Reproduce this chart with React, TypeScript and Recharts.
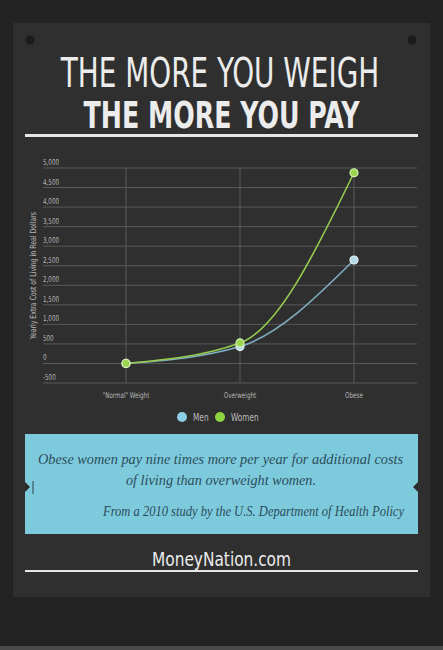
import { LineChart, Line, XAxis, YAxis, CartesianGrid, Label } from "recharts";

// weight categories and yearly extra cost (USD)
const categories = ['"Normal" Weight', "Overweight", "Obese"];
const menCost = [0, 432, 2646];
const womenCost = [0, 524, 4879];
const yTicks = [-500, 0, 500, 1000, 1500, 2000, 2500, 3000, 3500, 4000, 4500, 5000];
const seriesNames = ["Men", "Women"];
const legendColors = ["#8ccfe4", "#8ed340"];

const data = categories.map((c, i) => ({ category: c, men: menCost[i], women: womenCost[i] }));

const NARROW = '"Liberation Sans Narrow", "DejaVu Sans Condensed", "Arial Narrow", sans-serif';
const SERIF = '"Liberation Serif", "DejaVu Serif", serif';
const PLOT_LEFT = 43;
const SQUEEZE = 0.78; // the original uses a narrow face, squeeze ours to match

// text squeezed horizontally around its anchor point
function SText({ x, y, sx = SQUEEZE, children, ...rest }: any) {
  return (
    <text transform={`translate(${x},${y}) scale(${sx},1)`} x={0} y={0} {...rest}>
      {children}
    </text>
  );
}

function XTick(props: any) {
  const { x, y, payload } = props;
  return (
    <SText x={x} y={y + 7} textAnchor="middle" fill="#b8b8b8" fontSize={8} fontFamily={NARROW}>
      {payload.value}
    </SText>
  );
}

function YTick(props: any) {
  const { y, payload } = props;
  return (
    <SText x={PLOT_LEFT} y={y - 3} fill="#b8b8b8" fontSize={8} fontFamily={NARROW}>
      {Number(payload.value).toLocaleString("en-US")}
    </SText>
  );
}

function YTitle(props: any) {
  const vb = props.viewBox;
  const cx = vb.x + vb.width - 10;
  const cy = vb.y + vb.height / 2;
  return (
    <text
      transform={`translate(${cx},${cy}) rotate(-90) scale(0.81,1)`}
      x={0}
      y={0}
      textAnchor="middle"
      dominantBaseline="central"
      fill="#b8b8b8"
      fontSize={8.5}
      fontFamily={NARROW}
    >
      Yearly Extra Cost of Living in Real Dollars
    </text>
  );
}

export default function App() {
  return (
    <div style={{ position: "absolute", left: 0, top: 0, width: 443, height: 650, overflow: "hidden" }}>
      <svg width={443} height={650} style={{ position: "absolute", left: 0, top: 0 }}>
        <rect width={443} height={650} fill="#232323" />
        <rect y={646} width={443} height={4} fill="#4a4a4a" />
        <rect x={13} y={23} width={417} height={574} fill="#2f2f2f" />
        <circle cx={30} cy={40} r={4.5} fill="#1b1b1b" />
        <circle cx={412} cy={40} r={4.5} fill="#1b1b1b" />

        <SText x={220} y={87} sx={0.755} textAnchor="middle" fontSize={41} fill="#ececec" fontFamily={NARROW}>
          THE MORE YOU WEIGH
        </SText>
        <SText x={221.5} y={128} sx={0.74} textAnchor="middle" fontSize={38} fontWeight="bold" fill="#ececec" fontFamily={NARROW}>
          THE MORE YOU PAY
        </SText>
        <rect x={25} y={134} width={393} height={3} fill="#e6e6e6" />

        {/* legend */}
        {seriesNames.map((name, i) => {
          const cx = i === 0 ? 182 : 220;
          return (
            <g key={name}>
              <circle cx={cx} cy={417} r={5} fill={legendColors[i]} />
              <SText x={cx + 11} y={421} fontSize={10.5} fill="#bdbdbd" fontFamily={NARROW}>
                {name}
              </SText>
            </g>
          );
        })}

        <rect x={25} y={434} width={393} height={100} fill="#7ecadd" />
        <polygon points="25,482 30,487 25,492" fill="#2a2a2a" />
        <line x1={33} y1={481} x2={33} y2={494} stroke="#2f3f44" strokeWidth={1} />
        <polygon points="418,482 413,487 418,492" fill="#2a2a2a" />
        <text x={220.5} y={464} textAnchor="middle" fontSize={15.5} fontStyle="italic" textLength={365} lengthAdjust="spacingAndGlyphs" fill="#2b4d5b" fontFamily={SERIF}>
          Obese women pay nine times more per year for additional costs
        </text>
        <text x={221} y={485} textAnchor="middle" fontSize={15.5} fontStyle="italic" textLength={190} lengthAdjust="spacingAndGlyphs" fill="#2b4d5b" fontFamily={SERIF}>
          of living than overweight women.
        </text>
        <text x={404} y={515.5} textAnchor="end" fontSize={14} fontStyle="italic" textLength={301} lengthAdjust="spacingAndGlyphs" fill="#2b4d5b" fontFamily={SERIF}>
          From a 2010 study by the U.S. Department of Health Policy
        </text>

        <text x={221.5} y={566} textAnchor="middle" fontSize={20} textLength={139} lengthAdjust="spacingAndGlyphs" fill="#ececec" fontFamily={NARROW}>
          MoneyNation.com
        </text>
        <rect x={25} y={570} width={393} height={2} fill="#e6e6e6" />
      </svg>

      <div style={{ position: "absolute", left: 0, top: 140 }}>
        <LineChart width={443} height={270} data={data} margin={{ top: 28, right: 26, left: 0, bottom: 7 }}>
          <CartesianGrid stroke="#5a5a5a" strokeWidth={1} syncWithTicks />
          <XAxis
            dataKey="category"
            padding={{ left: 83, right: 63 }}
            axisLine={false}
            tickLine={false}
            interval={0}
            height={20}
            tick={<XTick />}
          />
          <YAxis
            domain={[-500, 5000]}
            ticks={yTicks}
            width={PLOT_LEFT}
            axisLine={false}
            tickLine={false}
            interval={0}
            tick={<YTick />}
          >
            <Label content={<YTitle />} />
          </YAxis>
          <Line
            type="monotone"
            dataKey="men"
            name={seriesNames[0]}
            stroke="#7eaebf"
            strokeWidth={1.6}
            dot={{ r: 4, fill: "#b4dbe8", stroke: "#e6f2f5", strokeWidth: 1.2 }}
            isAnimationActive={false}
          />
          <Line
            type="monotone"
            dataKey="women"
            name={seriesNames[1]}
            stroke="#97cc4e"
            strokeWidth={1.6}
            dot={{ r: 4, fill: "#99d64e", stroke: "#d7efb8", strokeWidth: 1.2 }}
            isAnimationActive={false}
          />
        </LineChart>
      </div>
    </div>
  );
}
